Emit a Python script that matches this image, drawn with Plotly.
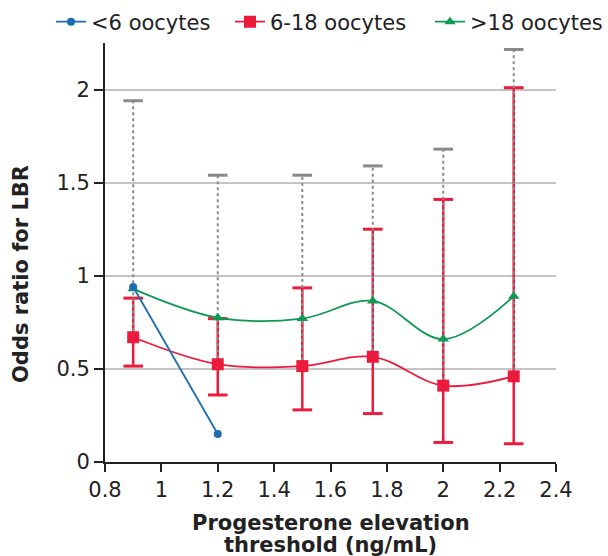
import plotly.graph_objects as go

# Data
thresholds = [0.9, 1.2, 1.5, 1.75, 2.0, 2.25]
lt6_x = [0.9, 1.2]
lt6_or = [0.94, 0.15]
mid_or = [0.67, 0.525, 0.515, 0.565, 0.41, 0.46]
mid_lo = [0.515, 0.36, 0.28, 0.26, 0.105, 0.098]
mid_hi = [0.88, 0.77, 0.935, 1.25, 1.41, 2.01]
gt18_or = [0.93, 0.775, 0.77, 0.865, 0.66, 0.89]
gt18_hi = [1.94, 1.54, 1.54, 1.59, 1.68, 2.215]
series_names = ["<6 oocytes", "6-18 oocytes", ">18 oocytes"]
x_title_lines = ["Progesterone elevation", "threshold (ng/mL)"]
y_title = "Odds ratio for LBR"

BLUE = "#1b6db3"
RED = "#ec1b3e"
GREEN = "#0e9a52"
GRAY = "#8a8a8a"
FONT = "DejaVu Sans"

PL, PT, PW, PH = 105, 43, 451, 419


def py(px):
    return (PT + PH - px) / PH


def pxp(px):
    return (px - PL) / PW


fig = go.Figure()

# red CI whiskers
wx, wy = [], []
for x, lo, hi in zip(thresholds, mid_lo, mid_hi):
    wx += [x, x, None]
    wy += [lo, hi, None]
fig.add_trace(go.Scatter(x=wx, y=wy, mode="lines", line=dict(color=RED, width=2.5),
                         showlegend=False, hoverinfo="skip"))
fig.add_trace(go.Scatter(x=thresholds + thresholds, y=mid_lo + mid_hi, mode="markers",
                         marker=dict(symbol="line-ew", size=14, line=dict(color=RED, width=3)),
                         showlegend=False, hoverinfo="skip"))

# gray dotted whiskers
gx, gy = [], []
for x, lo, hi in zip(thresholds, mid_or, gt18_hi):
    gx += [x, x, None]
    gy += [lo, hi, None]
fig.add_trace(go.Scatter(x=gx, y=gy, mode="lines", line=dict(color=GRAY, width=2, dash="3px,3px"),
                         showlegend=False, hoverinfo="skip"))
fig.add_trace(go.Scatter(x=thresholds, y=gt18_hi, mode="markers",
                         marker=dict(symbol="line-ew", size=14, line=dict(color=GRAY, width=3)),
                         showlegend=False, hoverinfo="skip"))

fig.add_trace(go.Scatter(x=thresholds, y=mid_or, mode="lines+markers", name=series_names[1],
                         legend="legend2",
                         line=dict(color=RED, width=1.8, shape="spline", smoothing=1),
                         marker=dict(symbol="square", size=12, color=RED)))
fig.add_trace(go.Scatter(x=thresholds, y=gt18_or, mode="lines+markers", name=series_names[2],
                         legend="legend3",
                         line=dict(color=GREEN, width=1.8, shape="spline", smoothing=1),
                         marker=dict(symbol="triangle-up", size=10, color=GREEN)))
fig.add_trace(go.Scatter(x=lt6_x, y=lt6_or, mode="lines+markers", name=series_names[0],
                         legend="legend",
                         line=dict(color=BLUE, width=1.8),
                         marker=dict(symbol="circle", size=8, color=BLUE)))

fig.add_annotation(text="<b>%s</b>" % x_title_lines[0], xref="paper", yref="paper",
                   x=0.5, y=py(523), xanchor="center", yanchor="middle", showarrow=False,
                   font=dict(size=21, color="#222", family=FONT))
fig.add_annotation(text="<b>%s</b>" % x_title_lines[1], xref="paper", yref="paper",
                   x=0.5, y=py(545), xanchor="center", yanchor="middle", showarrow=False,
                   font=dict(size=21, color="#222", family=FONT))
fig.add_annotation(text="<b>%s</b>" % y_title, xref="paper", yref="paper",
                   x=pxp(21), y=py(274), xanchor="center", yanchor="middle", showarrow=False,
                   textangle=-90, font=dict(size=21, color="#222", family=FONT))


def leg(left_px):
    return dict(orientation="h", xref="paper", x=pxp(left_px), xanchor="left",
                yref="paper", y=py(22), yanchor="middle",
                font=dict(size=21, color="#222", family=FONT), itemwidth=30,
                bgcolor="rgba(0,0,0,0)", borderwidth=0)


fig.update_layout(
    width=608, height=556,
    margin=dict(l=PL, r=608 - PL - PW, t=PT, b=556 - PT - PH, autoexpand=False),
    paper_bgcolor="white", plot_bgcolor="white",
    font=dict(family=FONT, size=21, color="#222"),
    legend=leg(51), legend2=leg(230), legend3=leg(430),
    xaxis=dict(range=[0.8, 2.4], tick0=0.8, dtick=0.2, showgrid=False, zeroline=False,
               showline=True, linecolor="#222", linewidth=2, ticks="outside", ticklen=8,
               tickwidth=2, tickcolor="#222", tickfont=dict(size=21, color="#222")),
    yaxis=dict(range=[0, 2.25], tickvals=[0, 0.5, 1, 1.5, 2], ticktext=["0", "0.5", "1", "1.5", "2"],
               showgrid=True, gridcolor="#c4c4c4", gridwidth=2, zeroline=False,
               showline=True, linecolor="#222", linewidth=2, ticks="outside", ticklen=9,
               tickwidth=2, tickcolor="#222", tickfont=dict(size=21, color="#222")),
)

fig.write_html("out.html")
